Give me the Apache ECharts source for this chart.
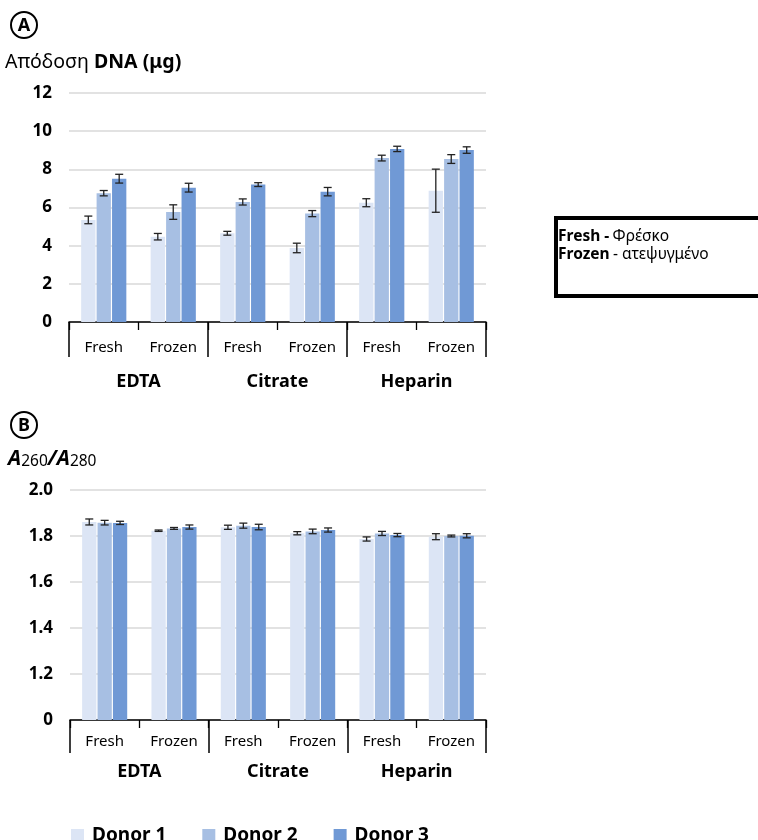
<!DOCTYPE html>
<html>
<head>
<meta charset="utf-8">
<script src="https://cdn.jsdelivr.net/npm/echarts@6/dist/echarts.min.js"></script>
<style>html,body{margin:0;padding:0;background:#fff;}#c{width:758px;height:840px;}</style>
</head>
<body>
<div id="c"></div>
<script>
// ---- data ----
const subCats = ['Fresh', 'Frozen', 'Fresh', 'Frozen', 'Fresh', 'Frozen'];
const groups = ['EDTA', 'Citrate', 'Heparin'];
const donors = ['Donor 1', 'Donor 2', 'Donor 3'];
const yieldTicks = [0, 12, 2];
const ratioTicks = [1.0, 2.0, 0.2];

const yieldD1 = [5.35, 4.47, 4.65, 3.88, 6.25, 6.88];
const yieldD1Err = [0.20, 0.17, 0.10, 0.25, 0.21, 1.13];
const yieldD2 = [6.75, 5.76, 6.29, 5.68, 8.59, 8.54];
const yieldD2Err = [0.14, 0.38, 0.16, 0.16, 0.15, 0.23];
const yieldD3 = [7.51, 7.04, 7.20, 6.83, 9.07, 9.01];
const yieldD3Err = [0.23, 0.23, 0.10, 0.22, 0.14, 0.17];

const ratioD1 = [1.861, 1.823, 1.838, 1.812, 1.787, 1.797];
const ratioD1Err = [0.013, 0.003, 0.009, 0.007, 0.009, 0.013];
const ratioD2 = [1.858, 1.833, 1.845, 1.820, 1.811, 1.800];
const ratioD2Err = [0.010, 0.004, 0.011, 0.010, 0.009, 0.004];
const ratioD3 = [1.857, 1.839, 1.839, 1.826, 1.804, 1.801];
const ratioD3Err = [0.007, 0.009, 0.012, 0.009, 0.007, 0.009];

const colors = ['#dce5f5', '#a7bfe3', '#7099d5'];
const FONT = 'Noto Sans';
const CAT_GAP = 0.35, BAR_GAP = 0.08;

const chart = echarts.init(document.getElementById('c'), null, {renderer: 'canvas'});

function errSeries(xIdx, yIdx, vals, errs, k) {
  return {
    type: 'custom', xAxisIndex: xIdx, yAxisIndex: yIdx, z: 10, silent: true,
    data: vals.map((v, i) => [i, v, errs[i]]),
    renderItem: function (params, api) {
      const band = api.size([1, 0])[0];
      const bw = band * (1 - CAT_GAP) / (3 + 2 * BAR_GAP);
      const off = (k - 1) * bw * (1 + BAR_GAP);
      const v = api.value(1), e = api.value(2);
      const hi = api.coord([api.value(0), v + e]);
      const lo = api.coord([api.value(0), v - e]);
      const x = hi[0] + off, cw = 4;
      const st = {stroke: '#222', lineWidth: 1.3};
      return {type: 'group', children: [
        {type: 'line', shape: {x1: x, y1: hi[1], x2: x, y2: lo[1]}, style: st},
        {type: 'line', shape: {x1: x - cw, y1: hi[1], x2: x + cw, y2: hi[1]}, style: st},
        {type: 'line', shape: {x1: x - cw, y1: lo[1], x2: x + cw, y2: lo[1]}, style: st}
      ]};
    }
  };
}
function barSeries(name, xIdx, yIdx, vals, k) {
  return {
    name: name, type: 'bar', xAxisIndex: xIdx, yAxisIndex: yIdx, data: vals,
    barCategoryGap: (CAT_GAP * 100) + '%', barGap: (BAR_GAP * 100) + '%',
    itemStyle: {color: colors[k]}, clip: true
  };
}

function subAxis(gridIndex, margin) {
  return {
    type: 'category', gridIndex: gridIndex, data: subCats, position: 'bottom',
    axisLine: {show: true, lineStyle: {color: '#000', width: 1.5}},
    axisTick: {show: true, interval: 0, length: 8, lineStyle: {color: '#000', width: 1.3}},
    axisLabel: {interval: 0, margin: margin, fontFamily: FONT, fontSize: 15, color: '#000'}
  };
}
function groupAxis(gridIndex, tickLen, margin) {
  return {
    type: 'category', gridIndex: gridIndex, data: groups, position: 'bottom',
    axisLine: {show: false},
    axisTick: {show: true, interval: 0, length: tickLen, lineStyle: {color: '#000', width: 1.5}},
    axisLabel: {interval: 0, margin: margin, fontFamily: FONT, fontSize: 18, fontWeight: 'bold', color: '#000'}
  };
}
function valAxis(gridIndex, t, fmt) {
  return {
    type: 'value', gridIndex: gridIndex, min: t[0], max: t[1], interval: t[2],
    axisLine: {show: false}, axisTick: {show: false},
    splitLine: {show: true, lineStyle: {color: '#d9d9d9', width: 1.5}},
    axisLabel: {margin: 17, fontFamily: FONT, fontSize: 17, fontWeight: 'bold', color: '#000', formatter: fmt}
  };
}

const series = [];
const yD = [yieldD1, yieldD2, yieldD3], yE = [yieldD1Err, yieldD2Err, yieldD3Err];
const rD = [ratioD1, ratioD2, ratioD3], rE = [ratioD1Err, ratioD2Err, ratioD3Err];
for (let k = 0; k < 3; k++) series.push(barSeries(donors[k], 0, 0, yD[k], k));
for (let k = 0; k < 3; k++) series.push(barSeries(donors[k], 2, 1, rD[k], k));
for (let k = 0; k < 3; k++) series.push(errSeries(0, 0, yD[k], yE[k], k));
for (let k = 0; k < 3; k++) series.push(errSeries(2, 1, rD[k], rE[k], k));

const option = {
  backgroundColor: '#fff',
  animation: false,
  textStyle: {fontFamily: FONT},
  grid: [
    {left: 69, top: 93, width: 417, height: 229},
    {left: 70, top: 490, width: 416, height: 230}
  ],
  xAxis: [subAxis(0, 18), groupAxis(0, 35, 51), subAxis(1, 14), groupAxis(1, 33, 43)],
  yAxis: [
    valAxis(0, yieldTicks, v => String(v)),
    valAxis(1, ratioTicks, v => Math.abs(v - ratioTicks[0]) < 1e-9 ? '0' : v.toFixed(1))
  ],
  legend: {
    data: donors, left: 66, top: 821, itemWidth: 13, itemHeight: 13, itemGap: 36,
    icon: 'rect',
    textStyle: {fontFamily: FONT, fontSize: 19, fontWeight: 'bold', color: '#000', padding: [0, 0, 0, 3]}
  },
  graphic: [
    {type: 'circle', shape: {cx: 24, cy: 25, r: 13}, style: {fill: '#fff', stroke: '#000', lineWidth: 2}},
    {type: 'text', x: 24, y: 26, style: {text: 'A', fontFamily: FONT, fontSize: 18, fontWeight: 'bold', fill: '#000', align: 'center', verticalAlign: 'middle'}},
    {type: 'text', x: 5, y: 62, style: {
      text: '{n|Απόδοση }{b|DNA (μg)}', verticalAlign: 'middle',
      rich: {n: {fontFamily: FONT, fontSize: 19.5, fill: '#000'}, b: {fontFamily: FONT, fontSize: 19.5, fontWeight: 'bold', fill: '#000'}}
    }},
    {type: 'circle', shape: {cx: 24, cy: 425, r: 13}, style: {fill: '#fff', stroke: '#000', lineWidth: 2}},
    {type: 'text', x: 24, y: 426, style: {text: 'B', fontFamily: FONT, fontSize: 18, fontWeight: 'bold', fill: '#000', align: 'center', verticalAlign: 'middle'}},
    {type: 'text', x: 8, y: 459, style: {
      text: '{a|A}{s|260}{a|/A}{s|280}', verticalAlign: 'middle',
      rich: {
        a: {fontFamily: FONT, fontSize: 21, fontWeight: 'bold', fontStyle: 'italic', fill: '#000'},
        s: {fontFamily: FONT, fontSize: 15.5, fill: '#000', padding: [6, 0, 0, 0]}
      }
    }},
    {type: 'rect', shape: {x: 556, y: 218, width: 230, height: 78}, style: {fill: '#fff', stroke: '#000', lineWidth: 4}},
    {type: 'text', x: 558, y: 237, style: {
      text: '{b|Fresh -} {n|Φρέσκο}', verticalAlign: 'middle',
      rich: {b: {fontFamily: FONT, fontSize: 15.5, fontWeight: 'bold', fill: '#000'}, n: {fontFamily: FONT, fontSize: 15.5, fill: '#000'}}
    }},
    {type: 'text', x: 558, y: 255, style: {
      text: '{b|Frozen} {n|- ατεψυγμένο}', verticalAlign: 'middle',
      rich: {b: {fontFamily: FONT, fontSize: 15.5, fontWeight: 'bold', fill: '#000'}, n: {fontFamily: FONT, fontSize: 15.5, fill: '#000'}}
    }}
  ],
  series: series
};
chart.setOption(option);
</script>
</body>
</html>
